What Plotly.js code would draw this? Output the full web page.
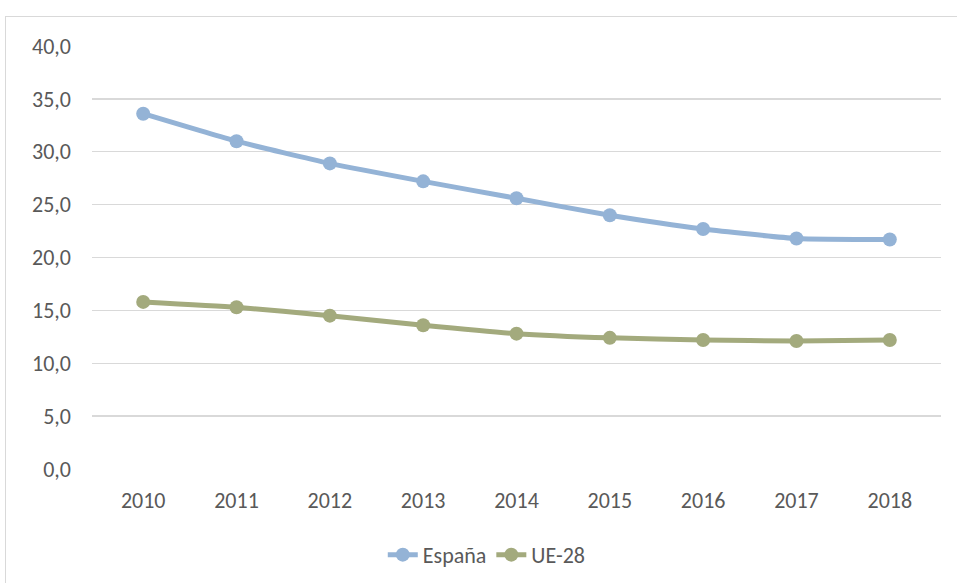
<!DOCTYPE html>
<html>
<head>
<meta charset="utf-8">
<script src="https://cdn.plot.ly/plotly-3.0.1.min.js"></script>
<style>
  html, body { margin: 0; padding: 0; background: #fff; overflow: hidden; }
  #chart { width: 957px; height: 583px; position: relative; }
  #frame { position: absolute; left: 5px; top: 16px; width: 1000px; height: 1000px;
           border: 1px solid #D9D9D9; pointer-events: none; }
</style>
</head>
<body>
<div id="chart"></div>
<div id="frame"></div>
<script>
const years = ['2010','2011','2012','2013','2014','2015','2016','2017','2018'];
const espana = [33.6, 31.0, 28.9, 27.2, 25.6, 24.0, 22.7, 21.8, 21.7];
const ue28 = [15.8, 15.3, 14.5, 13.6, 12.8, 12.4, 12.2, 12.1, 12.2];
const yTicks = [0, 5, 10, 15, 20, 25, 30, 35, 40];

const font = { family: "Carlito, 'Open Sans', sans-serif", size: 22, color: '#595959' };

const traces = [
  { x: years, y: espana, name: 'España', type: 'scatter', mode: 'lines+markers',
    line: { color: '#94B3D6', width: 5, shape: 'spline', smoothing: 0.5 },
    marker: { color: '#94B3D6', size: 14 } },
  { x: years, y: ue28, name: 'UE-28', type: 'scatter', mode: 'lines+markers',
    line: { color: '#A3AA7D', width: 5, shape: 'spline', smoothing: 0.5 },
    marker: { color: '#A3AA7D', size: 14 } }
];

const layout = {
  width: 957, height: 583,
  margin: { l: 92, r: 16, t: 46, b: 114, autoexpand: false },
  paper_bgcolor: '#fff', plot_bgcolor: '#fff',
  separators: ',.',
  font: font,
  showlegend: true,
  legend: { orientation: 'h', x: 0.465, xanchor: 'center', y: -0.203, yanchor: 'middle',
            font: font, tracegroupgap: 0 },
  xaxis: { type: 'category', showgrid: false, zeroline: false, showline: false, automargin: false,
           ticks: '', tickfont: font, ticklabelstandoff: 16 },
  yaxis: { range: [0, 40], tickvals: yTicks, tickformat: '.1f', showgrid: true, automargin: false,
           gridcolor: '#D9D9D9', gridwidth: 1.3, zeroline: false, showline: false,
           ticks: '', tickfont: font, ticklabelstandoff: 20 }
};

Plotly.newPlot('chart', traces, layout, { displayModeBar: false, staticPlot: true });
</script>
</body>
</html>
